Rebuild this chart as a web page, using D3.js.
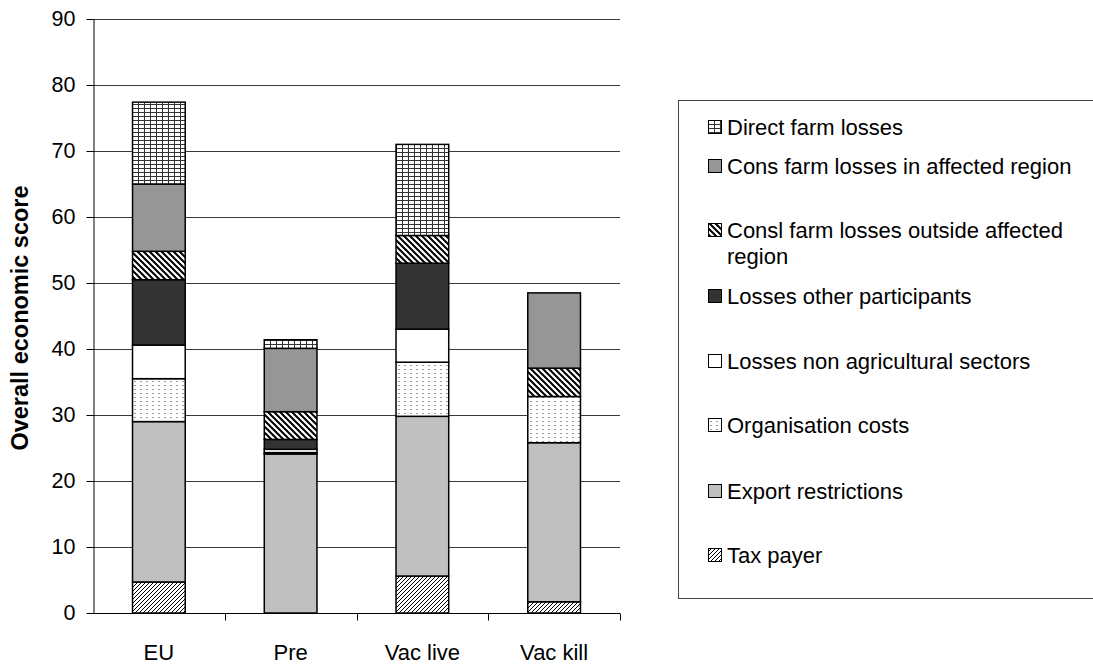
<!DOCTYPE html>
<html>
<head>
<meta charset="utf-8">
<script src="https://cdn.jsdelivr.net/npm/d3@7"></script>
<style>
  body { margin: 0; background: #fff; }
  text { font-family: Arial, "Liberation Sans", Helvetica, sans-serif; fill: #000; }
</style>
</head>
<body>
<svg id="chart" width="1093" height="664"></svg>
<script>
// ---- data ----
const categories = ["EU", "Pre", "Vac live", "Vac kill"];
const seriesNames = [
  "Tax payer",
  "Export restrictions",
  "Organisation costs",
  "Losses non agricultural sectors",
  "Losses other participants",
  "Consl farm losses outside affected region",
  "Cons farm losses in affected region",
  "Direct farm losses"
];
const taxPayer                = [4.7, 0.0, 5.6, 1.7];
const exportRestrictions      = [24.3, 24.1, 24.2, 24.1];
const organisationCosts       = [6.5, 0.2, 8.2, 7.0];
const lossesNonAgricultural   = [5.1, 0.5, 5.0, 0.0];
const lossesOtherParticipants = [9.9, 1.5, 10.0, 0.0];
const conslFarmLossesOutside  = [4.3, 4.2, 4.2, 4.3];
const consFarmLossesInRegion  = [10.2, 9.6, 0.0, 11.4];
const directFarmLosses        = [12.4, 1.3, 13.8, 0.0];
const yTicks = [0, 10, 20, 30, 40, 50, 60, 70, 80, 90];
const yTitle = "Overall economic score";

const seriesValues = [
  taxPayer, exportRestrictions, organisationCosts, lossesNonAgricultural,
  lossesOtherParticipants, conslFarmLossesOutside, consFarmLossesInRegion, directFarmLosses
];
const rows = categories.map((c, i) => {
  const r = { category: c };
  seriesNames.forEach((s, k) => { r[s] = seriesValues[k][i]; });
  return r;
});

// ---- layout ----
const svg = d3.select("#chart");
const plot = { left: 93, right: 620, top: 19, bottom: 613 };

const x = d3.scaleBand().domain(categories).range([plot.left, plot.right]).paddingInner(0.6).paddingOuter(0.3);
const xOuter = d3.scaleBand().domain(categories).range([plot.left, plot.right]);
const y = d3.scaleLinear().domain([0, 90]).range([plot.bottom, plot.top]);

// ---- fill patterns ----
const defs = svg.append("defs");
function pattern(id, w, h, draw) {
  const p = defs.append("pattern").attr("id", id).attr("patternUnits", "userSpaceOnUse")
    .attr("width", w).attr("height", h);
  p.append("rect").attr("width", w).attr("height", h).attr("fill", "#fff");
  draw(p);
}
pattern("p-tax", 4, 4, p => p.append("path")
  .attr("d", "M-1,1 L1,-1 M0,4 L4,0 M3,5 L5,3")
  .attr("stroke", "#000").attr("stroke-width", 1));
pattern("p-consl", 6, 6, p => p.append("path")
  .attr("d", "M-1,5 L1,7 M0,0 L6,6 M5,-1 L7,1")
  .attr("stroke", "#000").attr("stroke-width", 2));
pattern("p-grid", 6, 4, p => {
  p.append("rect").attr("x", 0).attr("y", 0).attr("width", 6).attr("height", 1).attr("fill", "#333");
  p.append("rect").attr("x", 0).attr("y", 0).attr("width", 1).attr("height", 4).attr("fill", "#333");
});
pattern("p-dots", 6, 4, p => p.append("rect")
  .attr("x", 2).attr("y", 1).attr("width", 2).attr("height", 1).attr("fill", "#9a9a9a"));

const fills = {
  "Tax payer": "url(#p-tax)",
  "Export restrictions": "#c0c0c0",
  "Organisation costs": "url(#p-dots)",
  "Losses non agricultural sectors": "#ffffff",
  "Losses other participants": "#333333",
  "Consl farm losses outside affected region": "url(#p-consl)",
  "Cons farm losses in affected region": "#969696",
  "Direct farm losses": "url(#p-grid)"
};

// ---- gridlines ----
svg.append("g").selectAll("line").data(yTicks.filter(t => t > 0)).join("line")
  .attr("x1", plot.left).attr("x2", plot.right)
  .attr("y1", d => Math.round(y(d)) + 0.5).attr("y2", d => Math.round(y(d)) + 0.5)
  .attr("stroke", "#3a3a3a").attr("stroke-width", 1);

// ---- stacked bars ----
const stack = d3.stack().keys(seriesNames)(rows);
svg.append("g").selectAll("g").data(stack).join("g")
  .attr("fill", d => fills[d.key])
  .selectAll("rect").data(d => d.filter(s => s[1] - s[0] > 0)).join("rect")
  .attr("x", d => x(d.data.category))
  .attr("width", x.bandwidth())
  .attr("y", d => y(d[1]))
  .attr("height", d => y(d[0]) - y(d[1]))
  .attr("stroke", "#000").attr("stroke-width", 1.5);

// ---- axes ----
const yAxis = svg.append("g").attr("transform", `translate(${plot.left + 0.5},0)`)
  .call(d3.axisLeft(y).tickValues(yTicks).tickSize(7).tickPadding(11).tickSizeOuter(0));
yAxis.select(".domain").attr("stroke", "#000");
yAxis.selectAll(".tick line").attr("stroke", "#000");
yAxis.selectAll(".tick text").attr("font-size", 21.5).attr("font-family", "Arial, 'Liberation Sans', sans-serif");

const xAxisG = svg.append("g").attr("transform", `translate(0,${plot.bottom + 0.5})`);
xAxisG.append("line").attr("x1", plot.left).attr("x2", plot.right).attr("stroke", "#000");
const boundaries = categories.map(c => xOuter(c) + xOuter.bandwidth());
xAxisG.selectAll("line.tk").data(boundaries).join("line").attr("class", "tk")
  .attr("x1", d => Math.round(d) + 0.5).attr("x2", d => Math.round(d) + 0.5)
  .attr("y1", 0).attr("y2", 7).attr("stroke", "#000");
xAxisG.selectAll("text").data(categories).join("text")
  .attr("x", d => xOuter(d) + xOuter.bandwidth() / 2)
  .attr("y", 46).attr("text-anchor", "middle").attr("font-size", 22)
  .text(d => d);

// ---- y title ----
svg.append("text")
  .attr("transform", `translate(28,${(plot.top + plot.bottom) / 2 + 2}) rotate(-90)`)
  .attr("text-anchor", "middle").attr("font-size", 23.5).attr("font-weight", "bold")
  .text(yTitle);

// ---- legend ----
const legend = svg.append("g");
legend.append("rect").attr("x", 678.5).attr("y", 100.5).attr("width", 430).attr("height", 498)
  .attr("fill", "#fff").attr("stroke", "#444").attr("stroke-width", 1);
const legendOrder = seriesNames.slice().reverse();
const rowCenter = [127, 166, 230, 296, 361, 425, 491, 555];
const wrapped = {
  "Consl farm losses outside affected region": ["Consl farm losses outside affected", "region"]
};
legendOrder.forEach((name, i) => {
  const cy = rowCenter[i];
  const g = legend.append("g");
  g.append("rect").attr("x", 708.5).attr("y", cy - 6.5).attr("width", 13).attr("height", 13)
    .attr("fill", fills[name]).attr("stroke", "#000").attr("stroke-width", 1);
  const lines = wrapped[name] || [name];
  lines.forEach((t, j) => {
    g.append("text").attr("x", 727).attr("y", cy + 8 + j * 26).attr("font-size", 22).text(t);
  });
});
</script>
</body>
</html>
